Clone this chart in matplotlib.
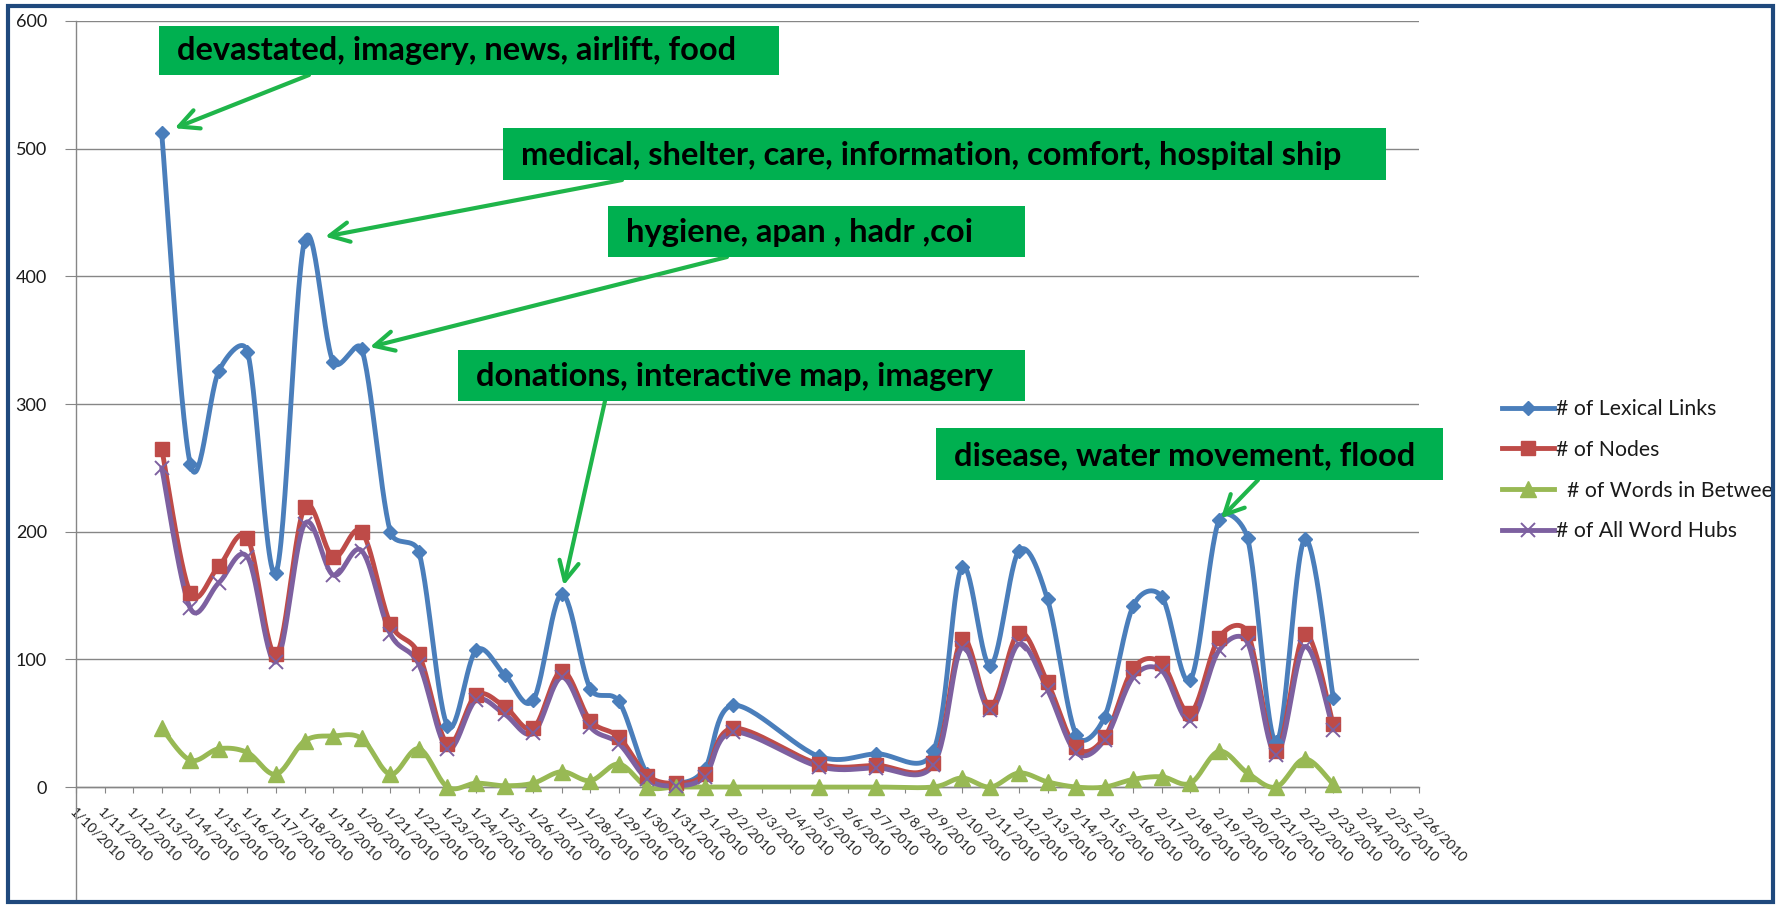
import numpy as np
import pandas as pd
import matplotlib
matplotlib.use("Agg")
import matplotlib.pyplot as plt
from matplotlib.patches import Rectangle
from matplotlib.lines import Line2D

# ---------------------------------------------------------------- data
axis_start = "2010-01-10"
axis_end = "2010-02-26"

obs_dates = [
    "1/13/2010", "1/14/2010", "1/15/2010", "1/16/2010", "1/17/2010", "1/18/2010",
    "1/19/2010", "1/20/2010", "1/21/2010", "1/22/2010", "1/23/2010", "1/24/2010",
    "1/25/2010", "1/26/2010", "1/27/2010", "1/28/2010", "1/29/2010", "1/30/2010",
    "1/31/2010", "2/1/2010", "2/2/2010", "2/5/2010", "2/7/2010", "2/9/2010",
    "2/10/2010", "2/11/2010", "2/12/2010", "2/13/2010", "2/14/2010", "2/15/2010",
    "2/16/2010", "2/17/2010", "2/18/2010", "2/19/2010", "2/20/2010", "2/21/2010",
    "2/22/2010", "2/23/2010",
]

lexical_links = [512, 253, 326, 341, 168, 428, 333, 343, 200, 184, 48, 107, 88, 68,
                 151, 77, 67, 10, 3, 14, 64, 24, 26, 28, 172, 95, 185, 147, 41, 55,
                 142, 149, 84, 209, 195, 35, 194, 70]
nodes = [265, 152, 173, 195, 104, 219, 180, 200, 128, 104, 34, 72, 63, 46,
         91, 52, 39, 9, 3, 10, 46, 18, 17, 19, 116, 63, 121, 82, 31, 39,
         93, 97, 58, 117, 121, 28, 120, 49]
words_between = [46, 21, 30, 27, 10, 36, 40, 38, 10, 30, 0, 3, 1, 3,
                 12, 5, 18, 0, 0, 0, 0, 0, 0, 0, 7, 0, 11, 4, 0, 0,
                 6, 8, 3, 28, 11, 0, 22, 2]
word_hubs = [250, 140, 160, 180, 98, 206, 166, 185, 120, 96, 30, 68, 57, 42,
             86, 47, 34, 6, 1, 8, 43, 16, 15, 17, 109, 60, 112, 76, 27, 37,
             86, 91, 52, 107, 113, 25, 110, 45]

series_labels = ["# of Lexical Links", "# of Nodes", "  # of Words in Between",
                 "# of All Word Hubs"]

callout_texts = [
    "devastated, imagery, news, airlift, food",
    "medical, shelter, care, information, comfort, hospital ship",
    "hygiene, apan , hadr ,coi",
    "donations, interactive map, imagery",
    "disease, water movement, flood",
]
callout_dates = ["1/13/2010", "1/18/2010", "1/20/2010", "1/27/2010", "2/19/2010"]

# ---------------------------------------------------------------- layout
W, H, DPI = 1781, 906, 100
FONT = ["Lato", "DejaVu Sans"]
plt.rcParams["font.family"] = FONT


def fx(px):
    return px / W


def fy(py):
    return 1 - py / H


def smooth_curve(ax, xs, ys, n=30):
    """Bezier smoothing through every point, built in screen space.

    Control arms are a sixth of the neighbour chord, capped at half of the
    segment length so steep neighbours do not cause large overshoots."""
    pts = ax.transData.transform(np.column_stack([xs, ys]).astype(float))
    parts = []
    for i in range(len(pts) - 1):
        p0 = pts[i - 1] if i > 0 else pts[i]
        p1, p2 = pts[i], pts[i + 1]
        p3 = pts[i + 2] if i + 2 < len(pts) else pts[i + 1]
        seg_len = np.hypot(*(p2 - p1))
        a1 = (p2 - p0) / 6.0
        a2 = (p3 - p1) / 6.0
        for a in (a1, a2):
            ln = np.hypot(*a)
            if ln > seg_len / 2 and ln > 0:
                a *= (seg_len / 2) / ln
        c1 = p1 + a1
        c2 = p2 - a2
        t = np.linspace(0, 1, n)[:, None]
        seg = ((1 - t) ** 3) * p1 + 3 * ((1 - t) ** 2) * t * c1 \
            + 3 * (1 - t) * (t ** 2) * c2 + (t ** 3) * p2
        parts.append(seg if i == 0 else seg[1:])
    c = ax.transData.inverted().transform(np.vstack(parts))
    return c[:, 0], c[:, 1]


all_days = pd.date_range(axis_start, axis_end)
tick_labels = [f"{d.month}/{d.day}/{d.year}" for d in all_days]
x_obs = [tick_labels.index(d) for d in obs_dates]

fig = plt.figure(figsize=(W / DPI, H / DPI), dpi=DPI, facecolor="white")
ax = fig.add_axes([fx(76), fy(900), fx(1419) - fx(76), fy(21) - fy(900)])
ax.set_xlim(0, len(tick_labels) - 1)
ax.set_ylim(-88.5, 600)

grid_col = "#868686"
for s in ("top", "right"):
    ax.spines[s].set_visible(False)
ax.spines["bottom"].set_position(("data", 0))
ax.spines["bottom"].set_color(grid_col)
ax.spines["left"].set_color(grid_col)
ax.spines["left"].set_linewidth(1.0)
ax.spines["bottom"].set_linewidth(1.0)

ax.set_yticks(range(0, 601, 100))
ax.yaxis.grid(True, color=grid_col, lw=1.0)
ax.set_axisbelow(True)
ax.tick_params(axis="y", length=8, color=grid_col, pad=13, labelsize=13,
               labelcolor="#1a1a1a")
ax.set_xticks(range(len(tick_labels)))
ax.set_xticklabels(tick_labels, rotation=-45, ha="left", va="top",
                   rotation_mode="anchor", fontsize=10.3, color="#262626")
ax.tick_params(axis="x", length=4.5, color=grid_col, pad=9)

styles = [
    (lexical_links, "#4A7EBB", "D", 7.5, 1.0),
    (nodes, "#BE4B48", "s", 10, 1.0),
    (words_between, "#98B954", "^", 11, 1.0),
    (word_hubs, "#7D60A0", "x", 10, 1.4),
]

handles = []
for (vals, col, mk, ms, mew), lab in zip(styles, series_labels):
    cx, cy = smooth_curve(ax, x_obs, vals)
    ax.plot(cx, cy, color=col, lw=3.5, solid_capstyle="round", zorder=3)
    ax.plot(x_obs, vals, ls="none", marker=mk, ms=ms, color=col, mec=col,
            mew=mew, zorder=4)
    handles.append(Line2D([0], [0], color=col, lw=3.5, marker=mk, ms=ms,
                          mec=col, mew=mew))

leg = ax.legend(handles, series_labels, loc="upper left",
                bbox_to_anchor=(fx(1502), fy(399)), bbox_transform=fig.transFigure,
                frameon=False, borderpad=0, borderaxespad=0, fontsize=15.3,
                handlelength=2.45, handletextpad=0.08, labelspacing=0.98,
                numpoints=1)
for t in leg.get_texts():
    t.set_color("#1a1a1a")

# ---------------------------------------------------------------- callouts
box_green = "#00B050"
arrow_green = "#1FB54A"
boxes = [(159, 26, 779, 75), (503, 128, 1386, 180), (608, 206, 1025, 257),
         (458, 350, 1025, 401), (936, 428, 1443, 480)]
text_widths = [558, 826, 348, 520, 463]
arrow_starts = [(309, 75), (622, 180), (727, 257), (605, 401), (1258, 480)]
tip_gaps = [10, 15, 6, 6.5, 2]

lex_by_date = dict(zip(obs_dates, lexical_links))
texts = []
for (x0, y0, x1, y1), txt in zip(boxes, callout_texts):
    fig.patches.append(Rectangle((fx(x0), fy(y1)), fx(x1) - fx(x0), fy(y0) - fy(y1),
                                 transform=fig.transFigure, facecolor=box_green,
                                 edgecolor="none", zorder=3))
    texts.append(fig.text(fx(x0 + 18), fy(y1 - 15), txt, fontsize=20,
                          fontweight="bold", color="black", ha="left",
                          va="baseline", zorder=4))

fig.canvas.draw()
r = fig.canvas.get_renderer()
ratios = [tw / t.get_window_extent(r).width for t, tw in zip(texts, text_widths)]
size = 20 * float(np.mean(ratios))
for t in texts:
    t.set_fontsize(size)

for d, (sx, sy), gap in zip(callout_dates, arrow_starts, tip_gaps):
    ax.annotate("", xy=(tick_labels.index(d), lex_by_date[d]), xycoords="data",
                xytext=(fx(sx), fy(sy)), textcoords="figure fraction",
                arrowprops=dict(arrowstyle="->,head_length=0.7,head_width=0.35",
                                mutation_scale=20, color=arrow_green, lw=3.0,
                                shrinkA=0, shrinkB=gap),
                zorder=6)

# ---------------------------------------------------------------- frame
fig.patches.append(Rectangle((fx(1773), 0), 1 - fx(1773), 1,
                             transform=fig.transFigure, facecolor="white",
                             edgecolor="none", zorder=8))
fig.patches.append(Rectangle((fx(8), fy(902)), fx(1773) - fx(8), fy(6) - fy(902),
                             transform=fig.transFigure, fill=False,
                             edgecolor="#1F497D", lw=3.0, zorder=9))

fig.savefig("out.png", dpi=DPI, facecolor="white")
